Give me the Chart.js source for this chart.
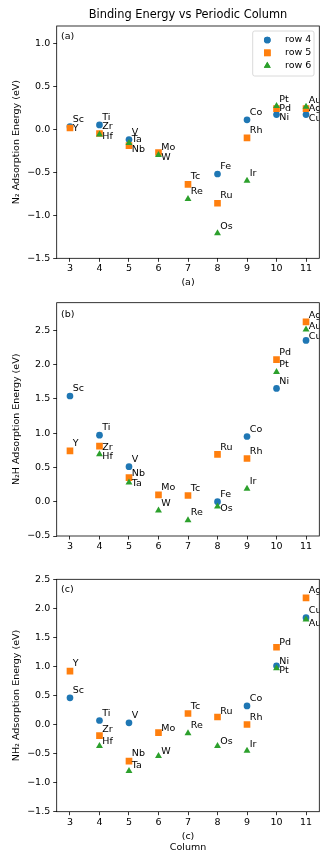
<!DOCTYPE html>
<html><head><meta charset="utf-8">
<script src="https://cdn.jsdelivr.net/npm/chart.js@4.4.0/dist/chart.umd.min.js"></script>
<style>
html,body{margin:0;padding:0;background:#fff;}
body{width:332px;height:864px;position:relative;overflow:hidden;}
canvas{position:absolute;left:0;}
</style></head><body>
<canvas id="ca" width="332" height="290" style="top:0px;width:332px;height:290px"></canvas>
<canvas id="cb" width="332" height="280" style="top:290px;width:332px;height:280px"></canvas>
<canvas id="cc" width="332" height="294" style="top:570px;width:332px;height:294px"></canvas>
<script>
// ---------- data ----------
const chartTitle = 'Binding Energy vs Periodic Column';
const seriesNames = ['row 4', 'row 5', 'row 6'];
const xTicks = [3, 4, 5, 6, 7, 8, 9, 10, 11];

// Panel (a): N2 adsorption
const aRow4Cols  = [3, 4, 5, 8, 9, 10, 11];
const aRow4Elems = ['Sc', 'Ti', 'V', 'Fe', 'Co', 'Ni', 'Cu'];
const aRow4Vals  = [0.03, 0.05, -0.12, -0.52, 0.11, 0.17, 0.17];
const aRow5Cols  = [3, 4, 5, 6, 7, 8, 9, 10, 11];
const aRow5Elems = ['Y', 'Zr', 'Nb', 'Mo', 'Tc', 'Ru', 'Rh', 'Pd', 'Ag'];
const aRow5Vals  = [0.015, -0.05, -0.19, -0.27, -0.64, -0.86, -0.10, 0.24, 0.24];
const aRow6Cols  = [4, 5, 6, 7, 8, 9, 10, 11];
const aRow6Elems = ['Hf', 'Ta', 'W', 'Re', 'Os', 'Ir', 'Pt', 'Au'];
const aRow6Vals  = [-0.06, -0.16, -0.30, -0.81, -1.21, -0.60, 0.27, 0.26];
const aYTicks = [-1.5, -1.0, -0.5, 0.0, 0.5, 1.0];

// Panel (b): N2H adsorption
const bRow4Cols  = [3, 4, 5, 8, 9, 10, 11];
const bRow4Elems = ['Sc', 'Ti', 'V', 'Fe', 'Co', 'Ni', 'Cu'];
const bRow4Vals  = [1.54, 0.97, 0.51, 0.00, 0.95, 1.65, 2.35];
const bRow5Cols  = [3, 4, 5, 6, 7, 8, 9, 10, 11];
const bRow5Elems = ['Y', 'Zr', 'Nb', 'Mo', 'Tc', 'Ru', 'Rh', 'Pd', 'Ag'];
const bRow5Vals  = [0.74, 0.81, 0.35, 0.10, 0.09, 0.69, 0.63, 2.07, 2.62];
const bRow6Cols  = [4, 5, 6, 7, 8, 9, 10, 11];
const bRow6Elems = ['Hf', 'Ta', 'W', 'Re', 'Os', 'Ir', 'Pt', 'Au'];
const bRow6Vals  = [0.69, 0.28, -0.13, -0.27, -0.07, 0.19, 1.89, 2.51];
const bYTicks = [-0.5, 0.0, 0.5, 1.0, 1.5, 2.0, 2.5];

// Panel (c): NH2 adsorption
const cRow4Cols  = [3, 4, 5, 9, 10, 11];
const cRow4Elems = ['Sc', 'Ti', 'V', 'Co', 'Ni', 'Cu'];
const cRow4Vals  = [0.46, 0.07, 0.03, 0.32, 1.01, 1.84];
const cRow5Cols  = [3, 4, 5, 6, 7, 8, 9, 10, 11];
const cRow5Elems = ['Y', 'Zr', 'Nb', 'Mo', 'Tc', 'Ru', 'Rh', 'Pd', 'Ag'];
const cRow5Vals  = [0.92, -0.19, -0.63, -0.14, 0.19, 0.13, 0.00, 1.33, 2.18];
const cRow6Cols  = [4, 5, 6, 7, 8, 9, 10, 11];
const cRow6Elems = ['Hf', 'Ta', 'W', 'Re', 'Os', 'Ir', 'Pt', 'Au'];
const cRow6Vals  = [-0.37, -0.80, -0.54, -0.15, -0.37, -0.45, 0.97, 1.81];
const cYTicks = [-1.5, -1.0, -0.5, 0.0, 0.5, 1.0, 1.5, 2.0, 2.5];

// ---------- styling / placement ----------
const COLORS = ['#1f77b4', '#ff7f0e', '#2ca02c'];
const STYLES = ['circle', 'rect', 'triangle'];
const RADII = [3.35, 4.7, 4.0];
const FONT = "'DejaVu Sans', sans-serif";

// vertical offsets (px) of element labels that are not placed above-right
const aLabelDy = {Y: 1, Hf: 2, Ta: -3, Nb: 4, Mo: -5, W: 2.5, Pd: 0, Ni: 3, Pt: -6, Ag: 0, Cu: 4, Au: -6};
const bLabelDy = {Zr: 1, Hf: 2, Nb: -4, Ta: 1, Os: 2.3, Cu: -3.7, Au: -3.3, Ag: -6};
const cLabelDy = {Au: 4, Pt: 2, Ni: -4.5, Hf: -4.3, Mo: -4.4, Os: -4.3, W: -4.7, Ru: -5, Ta: -5, Pd: -5, Ir: -5.7, Zr: -5.7};

Chart.defaults.font.family = FONT;
Chart.defaults.font.size = 9.5;
Chart.defaults.color = '#000';

function fmt(v) { return v.toFixed(1).replace('-', '\u2212'); }

const panelPlugin = {
  id: 'panelPlugin',
  afterDatasetsDraw(chart) {
    const o = chart.options.plugins.panelPlugin;
    const ctx = chart.ctx, a = chart.chartArea;
    ctx.save();
    ctx.beginPath();
    ctx.rect(a.left, a.top, a.right - a.left, a.bottom - a.top);
    ctx.clip();
    ctx.font = '9.5px ' + FONT;
    ctx.fillStyle = '#000';
    ctx.textAlign = 'left';
    ctx.textBaseline = 'middle';
    chart.data.datasets.forEach((ds, di) => {
      const meta = chart.getDatasetMeta(di);
      ds.elems.forEach((el, i) => {
        const p = meta.data[i];
        const dy = (el in o.dy) ? o.dy[el] : -7.3;
        ctx.fillText(el, p.x + 2.8, p.y + dy);
      });
    });
    ctx.restore();

    ctx.save();
    if (o.title) {
      ctx.font = '11.4px ' + FONT;
      ctx.fillStyle = '#000';
      ctx.textAlign = 'center';
      ctx.textBaseline = 'middle';
      ctx.fillText(o.title, (a.left + a.right) / 2, 14.8);
    }
    ctx.font = '9.5px ' + FONT;
    ctx.fillStyle = '#000';
    ctx.textAlign = 'left';
    ctx.textBaseline = 'middle';
    ctx.fillText(o.tag, a.left + 4.3, a.top + o.tagDy);
    ctx.strokeStyle = '#000';
    ctx.lineWidth = 0.8;
    ctx.strokeRect(a.left, a.top, a.right - a.left, a.bottom - a.top);

    if (o.legend) {
      const bx = 252.7, by = 31, bw = 61.3, bh = 45, r = 2;
      ctx.fillStyle = 'rgba(255,255,255,0.8)';
      ctx.strokeStyle = '#d0d0d0';
      ctx.lineWidth = 0.8;
      ctx.beginPath();
      ctx.moveTo(bx + r, by);
      ctx.lineTo(bx + bw - r, by); ctx.arcTo(bx + bw, by, bx + bw, by + r, r);
      ctx.lineTo(bx + bw, by + bh - r); ctx.arcTo(bx + bw, by + bh, bx + bw - r, by + bh, r);
      ctx.lineTo(bx + r, by + bh); ctx.arcTo(bx, by + bh, bx, by + bh - r, r);
      ctx.lineTo(bx, by + r); ctx.arcTo(bx, by, bx + r, by, r);
      ctx.closePath();
      ctx.fill(); ctx.stroke();
      seriesNames.forEach((name, k) => {
        const y = 40 + k * 12.85;
        ctx.fillStyle = COLORS[k];
        Chart.helpers.drawPoint(ctx, {pointStyle: STYLES[k], radius: RADII[k], borderWidth: 0, rotation: 0}, 267.3, y);
        ctx.fill();
        ctx.fillStyle = '#000';
        ctx.font = '9.5px ' + FONT;
        ctx.textAlign = 'left';
        ctx.textBaseline = 'middle';
        ctx.fillText(name, 285, y);
      });
    }
    ctx.restore();
  }
};

function makePanel(id, cfg) {
  const rows = cfg.rows;
  new Chart(document.getElementById(id), {
    type: 'scatter',
    data: {
      datasets: rows.map((r, k) => ({
        label: seriesNames[k],
        data: r.cols.map((c, i) => ({x: c, y: r.vals[i]})),
        elems: r.elems,
        pointStyle: STYLES[k],
        pointRadius: RADII[k],
        pointHoverRadius: RADII[k],
        backgroundColor: COLORS[k],
        borderColor: COLORS[k],
        borderWidth: 0,
        order: 2 - k
      }))
    },
    options: {
      responsive: false,
      animation: false,
      devicePixelRatio: 1,
      events: [],
      layout: {padding: {left: 0, right: 12.7, top: cfg.padTop, bottom: 0}},
      plugins: {
        legend: {display: false},
        tooltip: {enabled: false},
        title: {display: false},
        panelPlugin: {tag: cfg.tag, tagDy: cfg.tagDy, dy: cfg.dy, legend: !!cfg.legend, title: cfg.title}
      },
      scales: {
        x: {
          type: 'linear', min: 2.55, max: 11.45,
          afterBuildTicks: s => { s.ticks = xTicks.map(v => ({value: v})); },
          afterFit: s => { s.height = cfg.xH; },
          ticks: {padding: 1.5, maxRotation: 0, autoSkip: false, callback: v => String(v), color: '#000', font: {size: 9.5}},
          grid: {drawOnChartArea: false, drawTicks: true, tickLength: 3.5, tickColor: '#000', tickWidth: 0.8, color: '#000'},
          border: {display: false},
          title: cfg.xTitle ? {
            display: true, text: cfg.xTitle, color: '#000',
            font: {size: 9.5, lineHeight: 1.16},
            padding: {top: 0, bottom: cfg.xTitlePad}
          } : {display: false}
        },
        y: {
          type: 'linear', min: cfg.yMin, max: cfg.yMax,
          afterBuildTicks: s => { s.ticks = cfg.yTicks.map(v => ({value: v})); },
          afterFit: s => { s.width = 56.7; },
          ticks: {padding: 3, callback: v => fmt(v), color: '#000', font: {size: 9.5}},
          grid: {drawOnChartArea: false, drawTicks: true, tickLength: 3.5, tickColor: '#000', tickWidth: 0.8, color: '#000'},
          border: {display: false},
          title: {
            display: true, text: cfg.yTitle, color: '#000',
            font: {size: 9.5, lineHeight: 1.2},
            padding: {top: 10.8, bottom: 0}
          }
        }
      }
    },
    plugins: [panelPlugin]
  });
}

makePanel('ca', {
  rows: [
    {cols: aRow4Cols, elems: aRow4Elems, vals: aRow4Vals},
    {cols: aRow5Cols, elems: aRow5Elems, vals: aRow5Vals},
    {cols: aRow6Cols, elems: aRow6Elems, vals: aRow6Vals}
  ],
  title: chartTitle, padTop: 26, xH: 31.7, xTitle: '(a)', xTitlePad: 2,
  yMin: -1.5, yMax: 1.2, yTicks: aYTicks,
  yTitle: 'N\u2082 Adsorption Energy (eV)',
  tag: '(a)', tagDy: 10.2, dy: aLabelDy, legend: true
});

makePanel('cb', {
  rows: [
    {cols: bRow4Cols, elems: bRow4Elems, vals: bRow4Vals},
    {cols: bRow5Cols, elems: bRow5Elems, vals: bRow5Vals},
    {cols: bRow6Cols, elems: bRow6Elems, vals: bRow6Vals}
  ],
  title: null, padTop: 12.7, xH: 34, xTitle: null,
  yMin: -0.5, yMax: 2.9, yTicks: bYTicks,
  yTitle: 'N\u2082H Adsorption Energy (eV)',
  tag: '(b)', tagDy: 11.6, dy: bLabelDy, legend: false
});

makePanel('cc', {
  rows: [
    {cols: cRow4Cols, elems: cRow4Elems, vals: cRow4Vals},
    {cols: cRow5Cols, elems: cRow5Elems, vals: cRow5Vals},
    {cols: cRow6Cols, elems: cRow6Elems, vals: cRow6Vals}
  ],
  title: null, padTop: 9.3, xH: 52.3, xTitle: ['(c)', 'Column'], xTitlePad: 11.3,
  yMin: -1.5, yMax: 2.5, yTicks: cYTicks,
  yTitle: 'NH\u2082 Adsorption Energy (eV)',
  tag: '(c)', tagDy: 9.9, dy: cLabelDy, legend: false
});
</script>
</body></html>
